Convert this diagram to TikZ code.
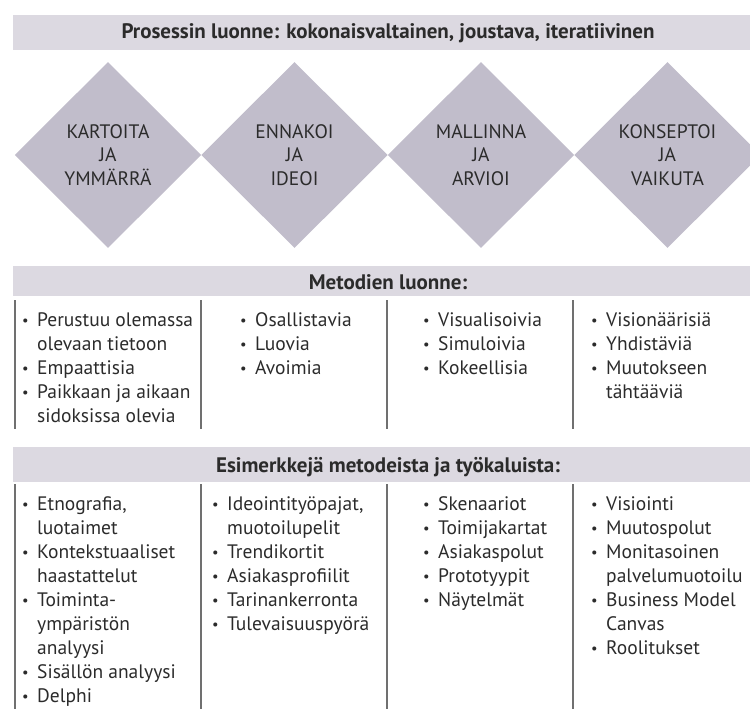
\documentclass[tikz,border=0pt]{standalone}
\usepackage{fontspec}
\setmainfont{PT Sans}
\usepackage{xcolor}
\usepackage{tikz}
\usetikzlibrary{shapes.geometric}

\definecolor{bandgray}{HTML}{DCD9E1}
\definecolor{diamondgray}{HTML}{C1BDCB}
\definecolor{textgray}{HTML}{2B2B2B}
\definecolor{linegray}{HTML}{707070}
\newcommand{\bl}{\makebox[15pt][l]{\raisebox{0.8pt}{\fontsize{14.5}{14.5}\selectfont •}}}

\begin{document}
\begin{tikzpicture}[x=1pt, y=-1pt,
    every node/.style={text=textgray, font=\fontsize{19.5}{23.5}\selectfont},
    band/.style={fill=bandgray},
    phase/.style={diamond, aspect=1, fill=diamondgray, minimum width=186.5pt,
        minimum height=186pt, inner sep=0pt, align=center},
    head/.style={anchor=base, font=\fontsize{21}{24}\selectfont\bfseries},
    item/.style={anchor=base west, inner sep=0pt},
    colline/.style={draw=linegray, line width=1.3pt}]
    \useasboundingbox (0,0) rectangle (750,709);
    \clip (0,0) rectangle (750,709);
    % Process band
    \fill[band] (13,15) rectangle (760,50);
    \node[head] (process) at (388,39) {Prosessin luonne: kokonaisvaltainen, joustava, iteratiivinen};
    % Phases
    \node[phase] (map)     at (108.0,155) {KARTOITA\\JA\\YMMÄRRÄ};
    \node[phase] (foresee) at (294.5,155) {ENNAKOI\\JA\\IDEOI};
    \node[phase] (model)   at (481.0,155) {MALLINNA\\JA\\ARVIOI};
    \node[phase] (concept) at (667.5,155) {KONSEPTOI\\JA\\VAIKUTA};
    % Methods band
    \fill[band] (13,266) rectangle (760,296);
    \node[head] (methods) at (388,289) {Metodien luonne:};
    \draw[colline] ( 15,300) -- ( 15,429);
    \draw[colline] (201,300) -- (201,429);
    \draw[colline] (387,300) -- (387,429);
    \draw[colline] (573,300) -- (573,429);
    % Methods column 1
    \node[item] (m1a) at ( 22,326) {\bl Perustuu olemassa};
    \node[item] (m1b) at ( 37,350) {olevaan tietoon};
    \node[item] (m1c) at ( 22,374) {\bl Empaattisia};
    \node[item] (m1d) at ( 22,398) {\bl Paikkaan ja aikaan};
    \node[item] (m1e) at ( 37,422) {sidoksissa olevia};
    % Methods column 2
    \node[item] (m2a) at (240,326) {\bl Osallistavia};
    \node[item] (m2b) at (240,350) {\bl Luovia};
    \node[item] (m2c) at (240,374) {\bl Avoimia};
    % Methods column 3
    \node[item] (m3a) at (423,326) {\bl Visualisoivia};
    \node[item] (m3b) at (423,350) {\bl Simuloivia};
    \node[item] (m3c) at (423,374) {\bl Kokeellisia};
    % Methods column 4
    \node[item] (m4a) at (591,326) {\bl Visionäärisiä};
    \node[item] (m4b) at (591,350) {\bl Yhdistäviä};
    \node[item] (m4c) at (591,374) {\bl Muutokseen};
    \node[item] (m4d) at (606,398) {tähtääviä};
    % Examples band
    \fill[band] (13,447) rectangle (760,482);
    \node[head] (examples) at (388,472) {Esimerkkejä metodeista ja työkaluista:};
    \draw[colline] ( 15,484) -- ( 15,709);
    \draw[colline] (201,484) -- (201,709);
    \draw[colline] (387,484) -- (387,709);
    \draw[colline] (573,484) -- (573,709);
    % Examples column 1
    \node[item] (e1a) at ( 22,510) {\bl Etnografia,};
    \node[item] (e1b) at ( 37,534) {luotaimet};
    \node[item] (e1c) at ( 22,558) {\bl Kontekstuaaliset};
    \node[item] (e1d) at ( 37,582) {haastattelut};
    \node[item] (e1e) at ( 22,606) {\bl Toiminta-};
    \node[item] (e1f) at ( 37,630) {ympäristön};
    \node[item] (e1g) at ( 37,654) {analyysi};
    \node[item] (e1h) at ( 22,678) {\bl Sisällön analyysi};
    \node[item] (e1i) at ( 22,702) {\bl Delphi};
    % Examples column 2
    \node[item] (e2a) at (212,510) {\bl Ideointityöpajat,};
    \node[item] (e2b) at (227,534) {muotoilupelit};
    \node[item] (e2c) at (212,558) {\bl Trendikortit};
    \node[item] (e2d) at (212,582) {\bl Asiakasprofiilit};
    \node[item] (e2e) at (212,606) {\bl Tarinankerronta};
    \node[item] (e2f) at (212,630) {\bl Tulevaisuuspyörä};
    % Examples column 3
    \node[item] (e3a) at (423,510) {\bl Skenaariot};
    \node[item] (e3b) at (423,534) {\bl Toimijakartat};
    \node[item] (e3c) at (423,558) {\bl Asiakaspolut};
    \node[item] (e3d) at (423,582) {\bl Prototyypit};
    \node[item] (e3e) at (423,606) {\bl Näytelmät};
    % Examples column 4
    \node[item] (e4a) at (591,510) {\bl Visiointi};
    \node[item] (e4b) at (591,534) {\bl Muutospolut};
    \node[item] (e4c) at (591,558) {\bl Monitasoinen};
    \node[item] (e4d) at (606,582) {palvelumuotoilu};
    \node[item] (e4e) at (591,606) {\bl Business Model};
    \node[item] (e4f) at (606,630) {Canvas};
    \node[item] (e4g) at (591,654) {\bl Roolitukset};
\end{tikzpicture}
\end{document}
